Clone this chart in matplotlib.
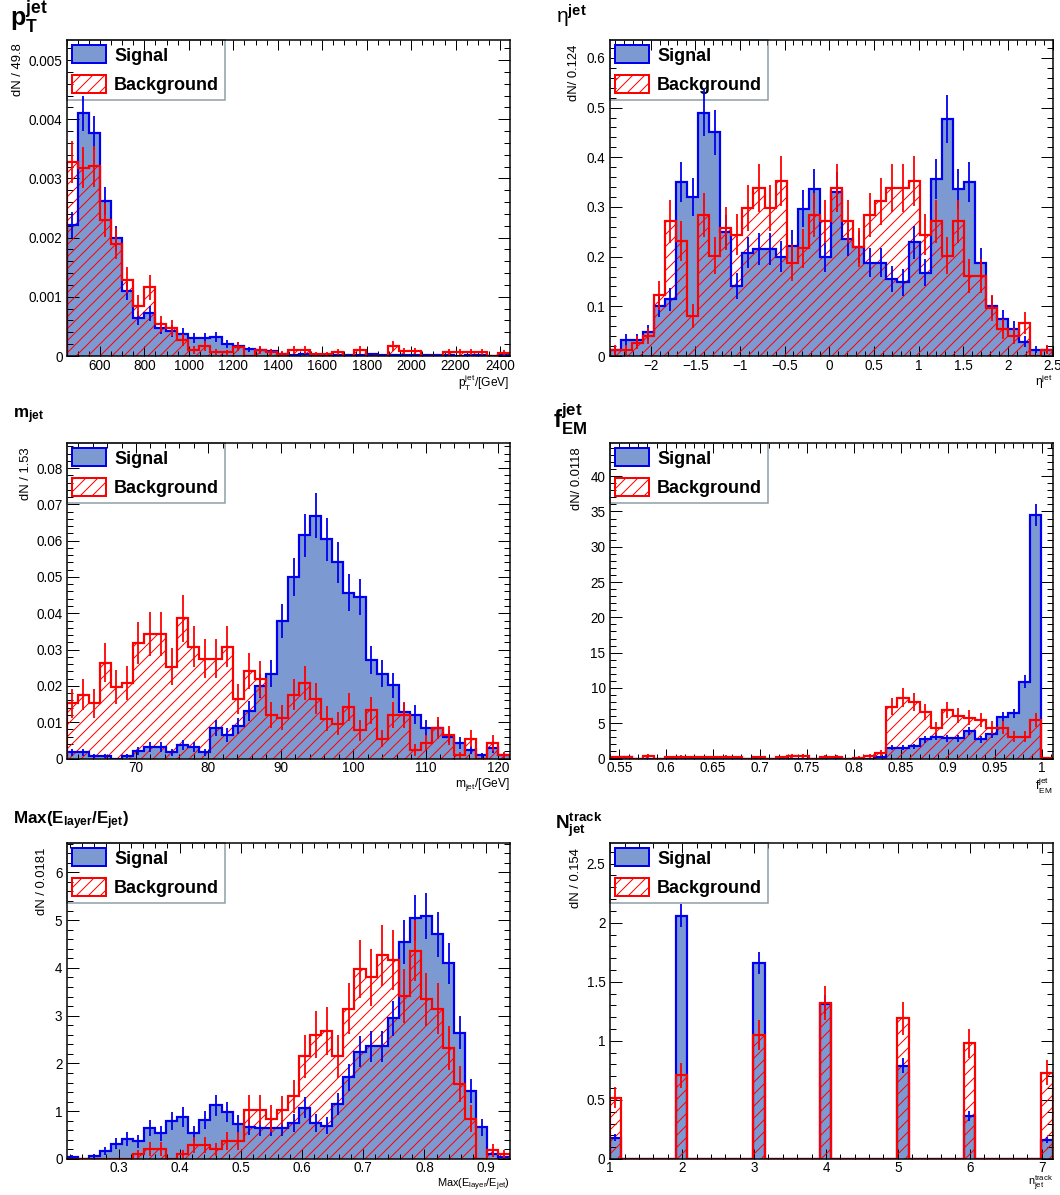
import numpy as np
import matplotlib
matplotlib.use("Agg")
import matplotlib.pyplot as plt
from matplotlib.patches import Patch
from matplotlib.ticker import MultipleLocator, FuncFormatter

plt.rcParams['font.family'] = ['Liberation Sans', 'DejaVu Sans']
plt.rcParams['mathtext.fontset'] = 'custom'
plt.rcParams['mathtext.rm'] = 'Liberation Sans'
plt.rcParams['mathtext.bf'] = 'Liberation Sans:bold'
plt.rcParams['mathtext.it'] = 'Liberation Sans:italic'
plt.rcParams['mathtext.sf'] = 'Liberation Sans'
plt.rcParams['hatch.linewidth'] = 1.0

# ---------------- data ----------------
# p_T^jet  (40 bins of 49.8 GeV)
pt_range = (450.0, 2442.0)
pt_sig = [0.00221, 0.0041, 0.00377, 0.00262, 0.00199, 0.0011, 0.00064, 0.00072, 0.00048, 0.00042,
          0.00038, 0.00031, 0.0003, 0.00032, 0.0002, 0.00017, 0.00011, 0.0001, 0.00008, 0.00004,
          0.00002, 0.00004, 0.00002, 0.00002, 0.00001, 0.00002, 0.00001, 0.00003, 0.00002, 0.00001,
          0.00001, 0.00001, 0.00001, 0.00001, 0.00001, 0.0, 0.00001, 0.00002, 0.0, 0.00001]
pt_bkg = [0.00328, 0.00318, 0.00321, 0.0023, 0.0019, 0.00128, 0.00085, 0.00116, 0.00054, 0.00047,
          0.00027, 0.0001, 0.00017, 0.00007, 0.00006, 0.00016, 0.0, 0.0001, 0.00007, 0.00004,
          0.0001, 0.0001, 0.00003, 0.00003, 0.00007, 0.0, 0.0001, 0.0, 0.0, 0.00017,
          0.00008, 0.00008, 0.0, 0.0, 0.00007, 0.00007, 0.00007, 0.00007, 0.0, 0.00005]

# eta^jet (40 bins of 0.124)
eta_range = (-2.46, 2.50)
eta_sig = [0.012, 0.032, 0.032, 0.048, 0.1, 0.114, 0.35, 0.32, 0.49, 0.45,
           0.249, 0.141, 0.208, 0.215, 0.215, 0.2, 0.222, 0.296, 0.336, 0.2,
           0.33, 0.235, 0.22, 0.188, 0.188, 0.155, 0.148, 0.229, 0.168, 0.356,
           0.477, 0.336, 0.35, 0.188, 0.1, 0.074, 0.054, 0.029, 0.013, 0.013]
eta_bkg = [0.012, 0.012, 0.027, 0.04, 0.122, 0.271, 0.231, 0.081, 0.284, 0.202,
           0.257, 0.244, 0.298, 0.338, 0.298, 0.352, 0.188, 0.217, 0.284, 0.271,
           0.338, 0.271, 0.219, 0.284, 0.311, 0.338, 0.338, 0.352, 0.244, 0.271,
           0.202, 0.271, 0.161, 0.161, 0.096, 0.054, 0.04, 0.067, 0.0, 0.013]

# m_jet (40 bins of 1.53 GeV)
m_range = (60.4, 121.6)
m_sig = [0.0017, 0.0017, 0.0007, 0.0007, 0.0, 0.0007, 0.0021, 0.0032, 0.0032, 0.0017,
         0.0037, 0.0032, 0.0017, 0.0083, 0.0064, 0.009, 0.013, 0.02, 0.0234, 0.038,
         0.05, 0.0615, 0.0669, 0.0604, 0.054, 0.0457, 0.0445, 0.0271, 0.0234, 0.0202,
         0.0127, 0.0121, 0.0085, 0.0085, 0.006, 0.0043, 0.0023, 0.0009, 0.0028, 0.0009]
m_bkg = [0.0152, 0.0176, 0.0152, 0.0264, 0.0197, 0.0209, 0.0319, 0.0342, 0.0342, 0.0253,
         0.0386, 0.0308, 0.0275, 0.0275, 0.0308, 0.0163, 0.0241, 0.0219, 0.0121, 0.0112,
         0.0176, 0.0209, 0.0165, 0.011, 0.0096, 0.0142, 0.0078, 0.0133, 0.0055, 0.0121,
         0.0121, 0.0023, 0.0044, 0.0085, 0.0064, 0.0009, 0.0055, 0.0, 0.0043, 0.0009]

# f_EM^jet (40 bins of 0.0118)
f_range = (0.5396, 1.0116)
f_sig = [0, 0.15, 0, 0, 0, 0, 0, 0, 0, 0,
         0, 0, 0, 0, 0, 0, 0, 0, 0, 0,
         0.1, 0, 0, 0, 0.2, 1.52, 1.52, 1.75, 2.7, 3.08,
         2.84, 2.84, 3.88, 2.7, 3.41, 5.92, 6.39, 10.9, 34.5, 0]
f_bkg = [0.15, 0.15, 0, 0.33, 0, 0.2, 0.25, 0.2, 0.2, 0.2,
         0.25, 0.2, 0, 0.15, 0, 0.2, 0.33, 0.33, 0, 0.24,
         0.24, 0, 0.14, 0.33, 0.8, 7.34, 8.62, 8.05, 6.63, 4.26,
         6.87, 6.06, 5.78, 5.45, 4.36, 4.36, 3.08, 3.08, 5.45, 0.1]

# Max(E_layer/E_jet) (40 bins of 0.0181)
e_range = (0.215, 0.939)
e_sig = [0.035, 0, 0.056, 0.17, 0.32, 0.42, 0.37, 0.65, 0.54, 0.79,
         0.88, 0.54, 0.82, 1.12, 0.98, 0.73, 0.68, 0.65, 0.65, 0.65,
         0.75, 1.07, 0.75, 0.7, 1.16, 1.71, 2.25, 2.36, 2.36, 2.95,
         4.54, 5.05, 5.09, 4.7, 4.1, 2.64, 1.43, 0.66, 0.1, 0.05]
e_bkg = [0, 0, 0, 0, 0, 0, 0.1, 0.21, 0.21, 0,
         0.1, 0.29, 0.29, 0.2, 0.37, 0.37, 1.03, 1.03, 0.84, 1.02,
         1.31, 2.15, 2.6, 2.68, 2.15, 3.15, 3.98, 3.8, 4.26, 4.16,
         3.42, 4.36, 3.34, 3.15, 2.32, 1.57, 0.84, 0, 0.18, 0.1]

# N_jet^track (40 bins of 0.154)
n_range = (0.99, 7.15)
n_sig = [0.18, 0, 0, 0, 0, 0, 2.06, 0, 0, 0,
         0, 0, 0, 1.66, 0, 0, 0, 0, 0, 1.31,
         0, 0, 0, 0, 0, 0, 0.79, 0, 0, 0,
         0, 0, 0.365, 0, 0, 0, 0, 0, 0, 0.16]
n_bkg = [0.52, 0, 0, 0, 0, 0, 0.71, 0, 0, 0,
         0, 0, 0, 1.05, 0, 0, 0, 0, 0, 1.32,
         0, 0, 0, 0, 0, 0, 1.19, 0, 0, 0,
         0, 0, 0.98, 0, 0, 0, 0, 0, 0, 0.73]

# effective event counts per unit density (for Poisson error bars)
neff_sig = [45600, 213, 1740, 13.5, 22, 206]
neff_bkg = [26800, 141, 940, 5.1, 10.7, 64]

titles = [r'$\mathbf{p}_{\mathbf{T}}^{\mathbf{jet}}$',
          r'$\mathrm{η}^{\mathbf{jet}}$',
          r'$\mathbf{m}_{\mathbf{jet}}$',
          r'$\mathbf{f}_{\mathbf{EM}}^{\mathbf{jet}}$',
          r'$\mathbf{Max(E}_{\mathbf{layer}}\mathbf{/E}_{\mathbf{jet}}\mathbf{)}$',
          r'$\mathbf{N}_{\mathbf{jet}}^{\mathbf{track}}$']
xlabels = [r'$\mathrm{p_{T}^{jet}/[GeV]}$', r'$\mathrm{η^{jet}}$', r'$\mathrm{m_{jet}/[GeV]}$',
           r'$\mathrm{f_{EM}^{jet}}$', r'$\mathrm{Max(E_{layer}/E_{jet})}$', r'$\mathrm{n_{jet}^{track}}$']
ylabels = ['dN / 49.8', 'dN/ 0.124', 'dN / 1.53', 'dN/ 0.0118', 'dN / 0.0181', 'dN / 0.154']
legend_labels = ['Signal', 'Background']

# ---------------- style / layout ----------------
SIG_FILL = '#7d99d1'
SIG_LINE = '#0000ee'
BKG_LINE = '#ff0000'
DPI = 72
W, H = 1060, 1195

fig = plt.figure(figsize=(W / DPI, H / DPI), dpi=DPI)

lefts = [66.5, 609.5]
tops = [40, 443, 843]
bottoms = [356, 758.5, 1159]
AXW = 443

panels = [
    dict(rng=pt_range, sig=pt_sig, bkg=pt_bkg, ymax=0.00534, xmaj=200, xmin_=50, ymaj=0.001, ymin_=0.0002),
    dict(rng=eta_range, sig=eta_sig, bkg=eta_bkg, ymax=0.636, xmaj=0.5, xmin_=0.1, ymaj=0.1, ymin_=0.02),
    dict(rng=m_range, sig=m_sig, bkg=m_bkg, ymax=0.0869, xmaj=10, xmin_=2, ymaj=0.01, ymin_=0.002),
    dict(rng=f_range, sig=f_sig, bkg=f_bkg, ymax=44.7, xmaj=0.05, xmin_=0.01, ymaj=5, ymin_=1),
    dict(rng=e_range, sig=e_sig, bkg=e_bkg, ymax=6.615, xmaj=0.1, xmin_=0.02, ymaj=1, ymin_=0.2),
    dict(rng=n_range, sig=n_sig, bkg=n_bkg, ymax=2.675, xmaj=1, xmin_=0.2, ymaj=0.5, ymin_=0.1),
]

title_pos = [(10, 26, 25), (556, 23, 21), (13, 418, 17), (553, 428, 24), (13, 824, 17), (555, 829, 19)]
ylab_pos = [(18, 43), (574, 45), (26, 447), (577, 447), (42, 848), (576, 848)]
xlab_size = [12, 12, 12, 12, 11, 11]


def fmt(v, p):
    s = '%g' % round(v, 8)
    return s.replace('-', '\u2212')


for i, P in enumerate(panels):
    row, col = divmod(i, 2)
    L = lefts[col]
    T = tops[row]
    B = bottoms[row]
    ax = fig.add_axes([L / W, 1 - B / H, AXW / W, (B - T) / H])
    sig = np.asarray(P['sig'], float)
    bkg = np.asarray(P['bkg'], float)
    edges = np.linspace(P['rng'][0], P['rng'][1], len(sig) + 1)
    centers = 0.5 * (edges[:-1] + edges[1:])
    wid = edges[1] - edges[0]

    ax.stairs(sig, edges, fill=True, facecolor=SIG_FILL, edgecolor='none', linewidth=0, zorder=1)
    ax.stairs(bkg, edges, fill=True, facecolor='none', edgecolor=BKG_LINE, hatch='//', linewidth=0, zorder=2)
    ax.stairs(sig, edges, color=SIG_LINE, linewidth=2.2, baseline=0, zorder=3)
    ax.stairs(bkg, edges, color=BKG_LINE, linewidth=2.2, baseline=0, zorder=4)

    es = np.sqrt(sig / neff_sig[i])
    eb = np.sqrt(bkg / neff_bkg[i])
    ms = sig > 0
    mb = bkg > 0
    ax.errorbar(centers[ms], sig[ms], yerr=es[ms], xerr=0.3 * wid, fmt='none',
                ecolor=SIG_LINE, elinewidth=1.8, capsize=0, zorder=5)
    ax.errorbar(centers[mb], bkg[mb], yerr=eb[mb], xerr=0.3 * wid, fmt='none',
                ecolor=BKG_LINE, elinewidth=1.8, capsize=0, zorder=6)

    ax.set_xlim(P['rng'])
    ax.set_ylim(0, P['ymax'])
    ax.xaxis.set_major_locator(MultipleLocator(P['xmaj']))
    ax.xaxis.set_minor_locator(MultipleLocator(P['xmin_']))
    ax.yaxis.set_major_locator(MultipleLocator(P['ymaj']))
    ax.yaxis.set_minor_locator(MultipleLocator(P['ymin_']))
    ax.xaxis.set_major_formatter(FuncFormatter(fmt))
    ax.yaxis.set_major_formatter(FuncFormatter(fmt))
    ax.tick_params(which='both', direction='in', top=True, right=True, labelsize=13.5,
                   width=1, colors='black')
    ax.tick_params(axis='x', which='major', length=10, pad=2.5)
    ax.tick_params(axis='x', which='minor', length=5)
    ax.tick_params(axis='y', which='major', length=12, pad=4)
    ax.tick_params(axis='y', which='minor', length=6)
    for sp in ax.spines.values():
        sp.set_linewidth(1.5)
        sp.set_zorder(10)

    handles = [Patch(facecolor=SIG_FILL, edgecolor=SIG_LINE, linewidth=2),
               Patch(facecolor='none', edgecolor=BKG_LINE, hatch='//', linewidth=2)]
    leg = ax.legend(handles, legend_labels, loc='upper left', bbox_to_anchor=(0, 1),
                    borderaxespad=0, fancybox=False, frameon=True,
                    prop=dict(family='Liberation Sans', weight='bold', size=18),
                    handlelength=1.9, handleheight=1.17, handletextpad=0.45,
                    borderpad=0.3, labelspacing=0.6)
    fr = leg.get_frame()
    fr.set_facecolor('none')
    fr.set_edgecolor('#6f8592')
    fr.set_linewidth(1.5)
    leg.set_zorder(3.5)

    tx, ty, ts = title_pos[i]
    fig.text(tx / W, 1 - ty / H, titles[i], fontsize=ts, ha='left', va='baseline')
    if row < 2:
        fig.text((L + AXW) / W, 1 - (B + 17) / H, xlabels[i], fontsize=xlab_size[i],
                 ha='right', va='top')
    else:
        fig.text((L + AXW) / W, 2.0 / H, xlabels[i], fontsize=xlab_size[i],
                 ha='right', va='bottom')
    yx, yy = ylab_pos[i]
    fig.text(yx / W, 1 - yy / H, ylabels[i], fontsize=13, rotation=90, ha='center', va='top')

fig.savefig('out.png', dpi=DPI)
